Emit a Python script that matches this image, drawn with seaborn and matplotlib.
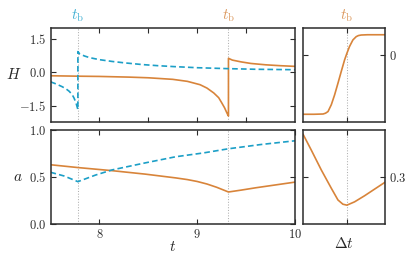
import matplotlib
matplotlib.use("Agg")
import matplotlib.pyplot as plt
import seaborn as sns
import pandas as pd

# break times
tb1 = 7.78
tb2 = 9.32

# top panel: H(t), blue dashed (jump at tb1), orange solid (jump at tb2)
t_h_blue = [7.5, 7.56, 7.62, 7.66, 7.69, 7.72, 7.74, 7.76, 7.78, 7.78, 7.80, 7.85, 7.9, 8.0, 8.13,
            8.25, 8.44, 8.6, 8.76, 9.0, 9.3, 9.6, 10.0]
h_blue = [-0.42, -0.52, -0.64, -0.74, -0.84, -0.98, -1.14, -1.35, -1.66, 0.93, 0.82, 0.73, 0.66,
          0.57, 0.49, 0.43, 0.35, 0.30, 0.26, 0.21, 0.17, 0.14, 0.12]
t_h_orange = [7.5, 7.8, 8.0, 8.3, 8.5, 8.75, 8.9, 9.03, 9.1, 9.17, 9.22, 9.25, 9.28, 9.305, 9.32,
              9.32, 9.36, 9.45, 9.55, 9.7, 9.85, 10.0]
h_orange = [-0.15, -0.17, -0.18, -0.21, -0.24, -0.31, -0.40, -0.55, -0.70, -0.92, -1.13, -1.35,
            -1.58, -1.82, -1.95, 0.63, 0.55, 0.47, 0.40, 0.34, 0.30, 0.27]

# bottom panel: a(t)
t_a_blue = [7.5, 7.64, 7.78, 7.96, 8.13, 8.47, 8.78, 9.06, 9.32, 9.65, 10.0]
a_blue = [0.55, 0.51, 0.45, 0.52, 0.575, 0.65, 0.715, 0.755, 0.80, 0.845, 0.885]
t_a_orange = [7.5, 7.78, 8.13, 8.47, 8.78, 8.9, 9.0, 9.1, 9.2, 9.32, 9.45, 9.6, 9.8, 10.0]
a_orange = [0.63, 0.60, 0.567, 0.53, 0.49, 0.472, 0.452, 0.425, 0.39, 0.34, 0.36, 0.385, 0.415, 0.445]

# right panels: dependence on delta t (tb at 0)
dt_h = [-0.534, -0.40, -0.29, -0.26, -0.23, -0.19, -0.15, -0.109, -0.069, -0.028, 0.0, 0.032,
        0.073, 0.113, 0.14, 0.174, 0.25, 0.466]
h_dt = [-2.18, -2.18, -2.17, -2.14, -2.08, -1.83, -1.47, -1.04, -0.61, -0.18, 0.06, 0.31,
        0.55, 0.67, 0.71, 0.73, 0.74, 0.74]
dt_a = [-0.534, -0.433, -0.312, -0.19, -0.109, -0.049, 0.0, 0.093, 0.215, 0.336, 0.466]
a_dt = [0.391, 0.357, 0.315, 0.276, 0.251, 0.242, 0.240, 0.247, 0.260, 0.274, 0.289]

blue = "#1c9fc7"
orange = "#d8843a"
blue_lbl = "#45b2d4"
orange_lbl = "#dc9a60"
grid_grey = "#b0b0b0"

sns.set_theme(style="ticks")
plt.rcParams["font.family"] = ["DejaVu Serif"]
plt.rcParams["mathtext.fontset"] = "cm"
plt.rcParams["axes.edgecolor"] = "#2b2b2b"
plt.rcParams["axes.linewidth"] = 1.1

fig = plt.figure(figsize=(4.15, 2.61), dpi=100)
ax_h = fig.add_axes([0.1217, 0.534, 0.589, 0.360])
ax_a = fig.add_axes([0.1217, 0.142, 0.589, 0.360])
ax_hs = fig.add_axes([0.730, 0.534, 0.198, 0.360])
ax_as = fig.add_axes([0.730, 0.142, 0.198, 0.360])


def draw(ax, x, y, color, dashed=False):
    df = pd.DataFrame({"x": x, "y": y})
    sns.lineplot(data=df, x="x", y="y", ax=ax, sort=False, estimator=None, color=color,
                 lw=1.2, dashes=False, legend=False)
    if dashed:
        ax.lines[-1].set_dashes((3.4, 1.9))


# dotted markers at the break times
for ax in (ax_h, ax_a):
    ax.axvline(tb1, color=grid_grey, lw=0.75, ls=(0, (1, 1.6)), zorder=0)
    ax.axvline(tb2, color=grid_grey, lw=0.75, ls=(0, (1, 1.6)), zorder=0)
for ax in (ax_hs, ax_as):
    ax.axvline(0, color=grid_grey, lw=0.75, ls=(0, (1, 1.6)), zorder=0)

draw(ax_h, t_h_orange, h_orange, orange)
draw(ax_h, t_h_blue, h_blue, blue, dashed=True)
draw(ax_a, t_a_orange, a_orange, orange)
draw(ax_a, t_a_blue, a_blue, blue, dashed=True)
draw(ax_hs, dt_h, h_dt, orange)
draw(ax_as, dt_a, a_dt, orange)

# limits / ticks
ax_h.set_xlim(7.5, 10)
ax_h.set_ylim(-2.2, 2.0)
ax_h.set_xticks([8, 8.5, 9, 9.5])
ax_h.set_xticklabels([])
ax_h.set_yticks([-1.5, 0, 1.5])
ax_h.set_yticklabels(["$-1.5$", "$0.0$", "$1.5$"])

ax_a.set_xlim(7.5, 10)
ax_a.set_ylim(0, 1)
ax_a.set_xticks([8, 9, 10])
ax_a.set_xticklabels(["$8$", "$9$", "$10$"])
ax_a.set_yticks([0, 0.5, 1.0])
ax_a.set_yticklabels(["$0.0$", "$0.5$", "$1.0$"])

ax_hs.set_xlim(-0.535, 0.465)
ax_hs.set_ylim(-2.45, 1.0)
ax_hs.set_xticks([0])
ax_hs.set_yticks([0])
ax_hs.set_xticklabels([])
ax_hs.set_yticklabels(["$0$"])

ax_as.set_xlim(-0.535, 0.465)
ax_as.set_ylim(0.2, 0.4)
ax_as.set_xticks([0])
ax_as.set_yticks([0.3])
ax_as.set_xticklabels([])
ax_as.set_yticklabels(["$0.3$"])

for ax in (ax_h, ax_a, ax_hs, ax_as):
    ax.set_xlabel("")
    ax.set_ylabel("")
    ax.tick_params(direction="in", length=3.5, width=0.8, top=True, right=True,
                   labelsize=9, pad=3, colors="#2b2b2b")
for ax in (ax_hs, ax_as):
    ax.tick_params(labelleft=False, labelright=True)

ax_h.set_ylabel("$H$", fontsize=11, rotation=0, labelpad=4, va="center")
ax_a.set_ylabel("$a$", fontsize=11, rotation=0, labelpad=8, va="center")
ax_a.set_xlabel("$t$", fontsize=11, labelpad=-1)
ax_as.set_xlabel(r"$\Delta t$", fontsize=11, labelpad=6)

# t_b labels above panels
ax_h.text(tb1, 1.04, r"$t_\mathrm{b}$", transform=ax_h.get_xaxis_transform(), ha="center",
          va="bottom", color=blue_lbl, fontsize=11)
ax_h.text(tb2, 1.04, r"$t_\mathrm{b}$", transform=ax_h.get_xaxis_transform(), ha="center",
          va="bottom", color=orange_lbl, fontsize=11)
ax_hs.text(0, 1.04, r"$t_\mathrm{b}$", transform=ax_hs.get_xaxis_transform(), ha="center",
           va="bottom", color=orange_lbl, fontsize=11)

fig.savefig("out.png", dpi=100)
